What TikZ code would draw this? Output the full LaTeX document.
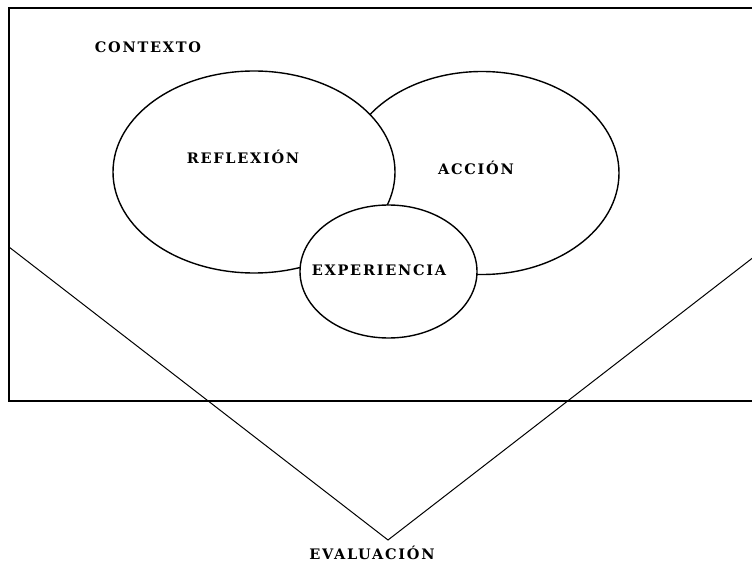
\documentclass[tikz,border=0pt]{standalone}
\usepackage{fontspec}
\newfontfamily\diagfont[LetterSpace=12]{DejaVu Serif}
\usepackage{tikz}
\usetikzlibrary{positioning}
\usepgflibrary{shapes.geometric}

\begin{document}
\begin{tikzpicture}[x=1pt, y=-1pt,
    zone/.style={draw=black, line width=1.4pt, ellipse, fill=white, inner sep=0pt},
    tag/.style={anchor=base, inner sep=0pt, font=\diagfont\bfseries\fontsize{14.5}{16}\selectfont}]
    \clip (0,0) rectangle (752,561);
    \fill[white] (0,0) rectangle (752,561);
    % contexto
    \coordinate (C1) at (9,8);
    \coordinate (C2) at (790,401);
    \draw [line width=1.8pt, draw=black] (C1) rectangle (C2);
    \node[tag] (NCon) at (148,53) {CONTEXTO};
    % evaluacion
    \coordinate (VL) at (9,247);
    \coordinate (VB) at (388,540);
    \coordinate (VR) at (790,229);
    \draw [line width=1pt, draw=black] (VL) -- (VB) -- (VR);
    \node[tag] (NEva) at (372,559) {EVALUACIÓN};
    % circulos
    \node[zone, minimum width=274pt, minimum height=203pt] (NAcc) at (482,173) {};
    \node[zone, minimum width=282pt, minimum height=202pt] (NRef) at (254,172) {};
    \node[zone, minimum width=177pt, minimum height=133pt] (NExp) at (388.5,271.5) {};
    \node[tag] (TRef) at (243,164) {REFLEXIÓN};
    \node[tag] (TAcc) at (476,175) {ACCIÓN};
    \node[tag] (TExp) at (379,276) {EXPERIENCIA};
  \end{tikzpicture}
\end{document}
